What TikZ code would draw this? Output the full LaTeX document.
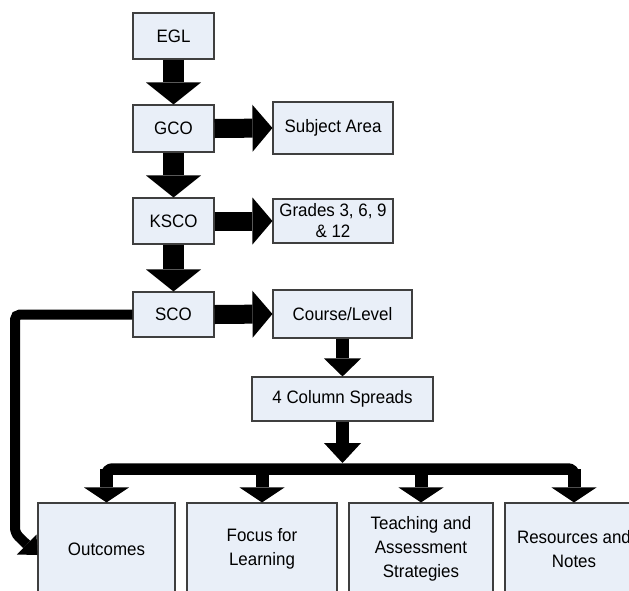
\documentclass[tikz,border=0pt]{standalone}
\usepackage{fontspec}
\setmainfont{Liberation Sans}[FakeStretch=0.94]
\usetikzlibrary{arrows.meta,calc}
\definecolor{boxfill}{HTML}{E9EFF8}
\definecolor{boxline}{HTML}{3F3F3F}
\begin{document}
\begin{tikzpicture}[x=1pt,y=-1pt,
  box/.style={draw=boxline, fill=boxfill, line width=1.1pt, inner sep=0pt,
    align=center, font=\fontsize{18}{23}\selectfont},
  colbox/.style={box, font=\fontsize{18}{24}\selectfont, minimum height=92pt},
  bigdown/.style={line width=21pt, -{Triangle[width=55pt,length=22pt,line width=0pt]}},
  bigright/.style={line width=19pt, -{Triangle[width=47pt,length=20pt,line width=0pt]}},
  smalldown/.style={line width=13pt, -{Triangle[width=37pt,length=18pt,line width=0pt]}},
  busdown/.style={line width=13pt, -{Triangle[width=37pt,length=20pt,line width=0pt]}},
  droparrow/.style={line width=13pt, -{Triangle[width=45pt,length=15pt,line width=0pt]}},
  busline/.style={line width=11.5pt, rounded corners=6pt},
  leftconn/.style={line width=10pt, rounded corners=5pt, -{Triangle[width=28pt,length=15pt,line width=0pt]}}
]
\useasboundingbox (0,0) rectangle (629,590);
\clip (0,0) rectangle (629,590);
% left column
\node[box, minimum width=81pt, minimum height=46pt] (egl) at (173.5,36) {EGL};
\node[box, minimum width=81pt, minimum height=47pt] (gco) at (173.5,128.5) {GCO};
\node[box, minimum width=81pt, minimum height=46pt] (ksco) at (173.5,221) {KSCO};
\node[box, minimum width=81pt, minimum height=45pt] (sco) at (173.5,314.5) {SCO};
% right column
\node[box, minimum width=120pt, minimum height=52pt] (subj) at (333,128) {Subject Area};
\node[box, minimum width=120pt, minimum height=44pt, font=\fontsize{18}{21}\selectfont] (grades) at (333,221) {Grades 3, 6, 9\\\& 12};
\node[box, minimum width=139pt, minimum height=48pt] (course) at (342.5,314) {Course/Level};
\node[box, minimum width=181pt, minimum height=44pt] (cols) at (342.5,399) {4 Column Spreads};
% bottom row
\node[colbox, minimum width=137pt] (out) at (106.5,549) {Outcomes};
\node[colbox, minimum width=150pt] (focus) at (262,549) {Focus for\\Learning};
\node[colbox, minimum width=144pt] (teach) at (421,549) {Teaching and\\Assessment\\Strategies};
\node[colbox, minimum width=138pt] (res) at (574,549) {Resources and\\Notes};
% vertical chain
\draw[bigdown] (egl.south) -- (gco.north);
\draw[bigdown] (gco.south) -- (ksco.north);
\draw[bigdown] (ksco.south) -- (sco.north);
% horizontal arrows
\draw[bigright] (gco.east) -- (subj.west);
\draw[bigright] (ksco.east) -- (grades.west);
\draw[bigright] (sco.east) -- (course.west);
% course to spreads
\draw[smalldown] (course.south) -- (cols.north);
% bus
\coordinate (busy) at (0,469);
\coordinate (bustop) at (342.5,463);
\coordinate (b1) at (out.north |- busy);
\coordinate (b2) at (focus.north |- busy);
\coordinate (b3) at (teach.north |- busy);
\coordinate (b4) at (res.north |- busy);
\draw[busdown] (cols.south) -- (bustop);
\draw[busline] ($(b1)+(0,18)$) -- (b1) -- (b4) -- ($(b4)+(0,18)$);
\draw[droparrow] (b1) -- (out.north);
\draw[droparrow] (b2) -- (focus.north);
\draw[droparrow] (b3) -- (teach.north);
\draw[droparrow] (b4) -- (res.north);
% left connector SCO -> Outcomes
\coordinate (lcorner) at (15,533);
\draw[leftconn] (sco.west) -| (lcorner) -- ($(out.west)+(0,6)$);
\end{tikzpicture}
\end{document}
